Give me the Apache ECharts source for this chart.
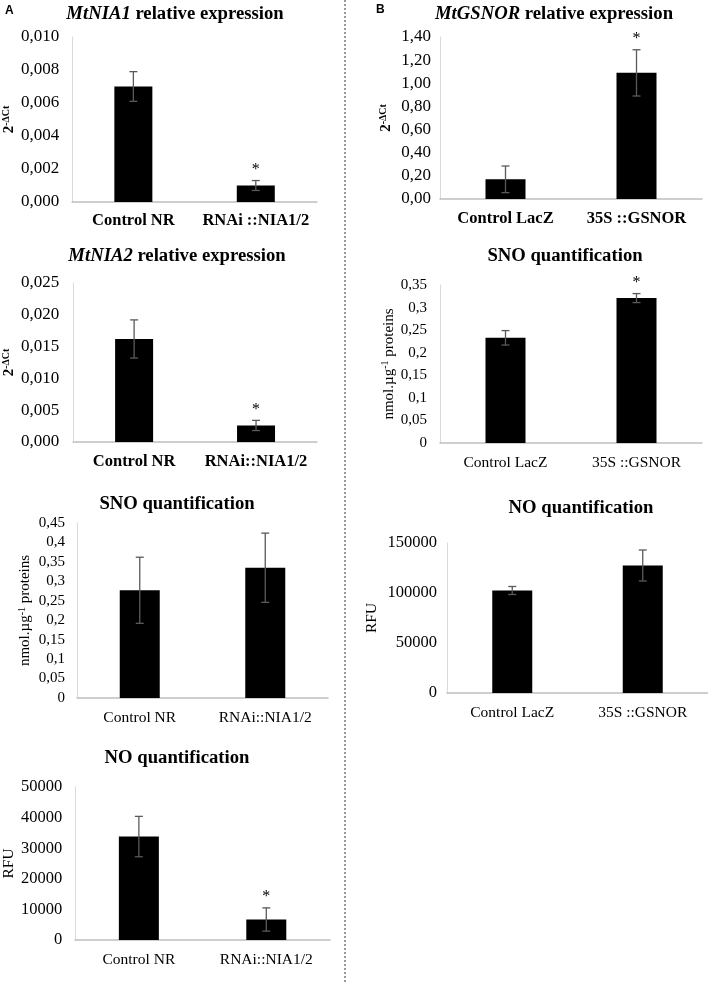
<!DOCTYPE html>
<html>
<head>
<meta charset="utf-8">
<script src="https://cdn.jsdelivr.net/npm/echarts@6/dist/echarts.min.js"></script>
<style>html,body{margin:0;padding:0;background:#fff}#c{width:708px;height:984px}</style>
</head>
<body>
<div id="c"></div>
<script>
// ---------- DATA ----------
const catsA1 = ['Control NR', 'RNAi ::NIA1/2'];
const catsA2 = ['Control NR', 'RNAi::NIA1/2'];
const catsB = ['Control LacZ', '35S ::GSNOR'];

const nia1Mean = [0.0070, 0.0010];
const nia1Err  = [0.0009, 0.0003];
const nia1Sig  = ['', '*'];

const nia2Mean = [0.0162, 0.0026];
const nia2Err  = [0.0030, 0.0008];
const nia2Sig  = ['', '*'];

const snoAMean = [0.277, 0.335];
const snoAErr  = [0.085, 0.089];
const snoASig  = ['', ''];

const noAMean = [33800, 6700];
const noAErr  = [6600, 3800];
const noASig  = ['', '*'];

const gsnorMean = [0.17, 1.09];
const gsnorErr  = [0.115, 0.20];
const gsnorSig  = ['', '*'];

const snoBMean = [0.233, 0.321];
const snoBErr  = [0.016, 0.010];
const snoBSig  = ['', '*'];

const noBMean = [102500, 127500];
const noBErr  = [4000, 15500];
const noBSig  = ['', ''];

// ---------- HELPERS ----------
const SERIF = '"Liberation Serif","Times New Roman",serif';
const fmtFixed = d => v => v.toFixed(d).replace('.', ',');
const fmtGen = v => String(+v.toFixed(3)).replace('.', ',');
const fmtInt = v => String(Math.round(v));

const grids = [], xAxes = [], yAxes = [], series = [], titles = [];

function panel(o) {
  const gi = grids.length;
  grids.push({left: o.box[0], top: o.box[1], width: o.box[2], height: o.box[3], containLabel: false});
  xAxes.push({
    type: 'category', gridIndex: gi, data: o.cats,
    axisLine: {lineStyle: {color: '#bfbfbf', width: 1.5}},
    axisTick: {show: false},
    axisLabel: {color: '#000', fontFamily: SERIF, fontSize: o.boldX ? 16.5 : 15.5, fontWeight: o.boldX ? 'bold' : 'normal', margin: o.xMargin, interval: 0}
  });
  const ns = o.nameSize, ss = Math.round(ns * 0.66), nw = o.nameBold ? 'bold' : 'normal';
  yAxes.push({
    type: 'value', gridIndex: gi, min: 0, max: o.max, interval: o.interval,
    axisLine: {show: true, lineStyle: {color: '#d9d9d9', width: 1}},
    axisTick: {show: false},
    splitLine: {show: false},
    axisLabel: {color: '#000', fontFamily: SERIF, fontSize: o.tickSize, margin: o.yMargin, formatter: o.fmt},
    name: o.yName, nameLocation: 'middle', nameRotate: 90, nameGap: o.nameGap,
    nameTextStyle: {color: '#000', fontFamily: SERIF, fontSize: ns, fontWeight: nw,
      rich: {
        n: {fontFamily: SERIF, fontSize: ns, fontWeight: nw, color: '#000'},
        s: {fontFamily: SERIF, fontSize: ss, fontWeight: nw, color: '#000', verticalAlign: 'top', padding: [0, 0, Math.round(ns * 0.45), 0]}
      }}
  });
  series.push({
    type: 'bar', xAxisIndex: gi, yAxisIndex: gi, data: o.mean, barWidth: o.barW,
    itemStyle: {color: '#000'}, silent: true, animation: false
  });
  const errData = o.mean.map((m, i) => [i, m, o.err[i]]);
  const sig = o.sig;
  series.push({
    type: 'custom', xAxisIndex: gi, yAxisIndex: gi, data: errData, clip: false, z: 5, animation: false,
    renderItem: function (params, api) {
      const i = api.value(0), m = api.value(1), e = api.value(2);
      const t = api.coord([i, m + e]), b = api.coord([i, m - e]);
      const c = 4, st = {stroke: '#5a5a5a', lineWidth: 1.3};
      const ch = [
        {type: 'line', shape: {x1: t[0], y1: t[1], x2: b[0], y2: b[1]}, style: st},
        {type: 'line', shape: {x1: t[0] - c, y1: t[1], x2: t[0] + c, y2: t[1]}, style: st},
        {type: 'line', shape: {x1: b[0] - c, y1: b[1], x2: b[0] + c, y2: b[1]}, style: st}
      ];
      if (sig[params.dataIndex]) {
        ch.push({type: 'text', style: {text: sig[params.dataIndex], x: t[0], y: t[1] - 3, align: 'center', verticalAlign: 'bottom',
          font: '16px ' + SERIF, fill: '#000'}});
      }
      return {type: 'group', children: ch};
    }
  });
  titles.push({
    text: o.title, left: o.titlePos[0], top: o.titlePos[1], textAlign: 'center', padding: 0,
    textStyle: {fontFamily: SERIF, fontSize: 18.7, fontWeight: 'bold', color: '#000',
      rich: {i: {fontFamily: SERIF, fontSize: 18.7, fontWeight: 'bold', fontStyle: 'italic', color: '#000'},
             r: {fontFamily: SERIF, fontSize: 18.7, fontWeight: 'bold', color: '#000'}}}
  });
}

const dCt = '{n|2}{s|-ΔCt}';
const nmol = '{n|nmol.µg}{s|-1}{n| proteins}';

panel({box: [68, 37, 249, 165], cats: catsA1, mean: nia1Mean, err: nia1Err, sig: nia1Sig, max: 0.010, interval: 0.002,
  fmt: fmtFixed(3), tickSize: 17, boldX: true, xMargin: 10, yMargin: 13, yName: dCt, nameBold: true, nameSize: 15, nameGap: 48, barW: 38,
  title: '{i|MtNIA1}{r| relative expression}', titlePos: [175, 5]});
panel({box: [69, 283, 248, 159], cats: catsA2, mean: nia2Mean, err: nia2Err, sig: nia2Sig, max: 0.025, interval: 0.005,
  fmt: fmtFixed(3), tickSize: 17, boldX: true, xMargin: 11, yMargin: 14, yName: dCt, nameBold: true, nameSize: 15, nameGap: 49, barW: 38,
  title: '{i|MtNIA2}{r| relative expression}', titlePos: [177, 247]});
panel({box: [77, 523, 251, 175], cats: catsA2, mean: snoAMean, err: snoAErr, sig: snoASig, max: 0.45, interval: 0.05,
  fmt: fmtGen, tickSize: 15, boldX: false, xMargin: 12, yMargin: 12, yName: nmol, nameBold: false, nameSize: 15, nameGap: 43, barW: 40,
  title: 'SNO quantification', titlePos: [177, 495]});
panel({box: [73, 787, 257, 153], cats: catsA2, mean: noAMean, err: noAErr, sig: noASig, max: 50000, interval: 10000,
  fmt: fmtInt, tickSize: 16.5, boldX: false, xMargin: 12, yMargin: 13, yName: 'RFU', nameBold: false, nameSize: 15.5, nameGap: 56, barW: 40,
  title: 'NO quantification', titlePos: [177, 749]});
panel({box: [440, 37, 262, 162], cats: catsB, mean: gsnorMean, err: gsnorErr, sig: gsnorSig, max: 1.4, interval: 0.2,
  fmt: fmtFixed(2), tickSize: 17, boldX: true, xMargin: 11, yMargin: 9, yName: dCt, nameBold: true, nameSize: 15, nameGap: 45, barW: 40,
  title: '{i|MtGSNOR}{r| relative expression}', titlePos: [554, 5]});
panel({box: [440, 285, 262, 158], cats: catsB, mean: snoBMean, err: snoBErr, sig: snoBSig, max: 0.35, interval: 0.05,
  fmt: fmtGen, tickSize: 15, boldX: false, xMargin: 12, yMargin: 13, yName: nmol, nameBold: false, nameSize: 15, nameGap: 42, barW: 40,
  title: 'SNO quantification', titlePos: [565, 247]});
panel({box: [447, 543, 261, 150], cats: catsB, mean: noBMean, err: noBErr, sig: noBSig, max: 150000, interval: 50000,
  fmt: fmtInt, tickSize: 16.5, boldX: false, xMargin: 12, yMargin: 10, yName: 'RFU', nameBold: false, nameSize: 15.5, nameGap: 67, barW: 40,
  title: 'NO quantification', titlePos: [581, 499]});

const chart = echarts.init(document.getElementById('c'), null, {renderer: 'canvas'});
chart.setOption({
  animation: false,
  backgroundColor: '#fff',
  title: titles,
  grid: grids, xAxis: xAxes, yAxis: yAxes, series: series,
  graphic: [
    {type: 'line', shape: {x1: 345, y1: 0, x2: 345, y2: 984}, style: {stroke: '#9a9a9a', lineWidth: 2, lineDash: [2, 2]}, silent: true},
    {type: 'text', left: 5, top: 5, style: {text: 'A', font: 'bold 12px "Liberation Sans",Arial,sans-serif', fill: '#000'}},
    {type: 'text', left: 376, top: 4, style: {text: 'B', font: 'bold 12px "Liberation Sans",Arial,sans-serif', fill: '#000'}}
  ]
});
</script>
</body>
</html>
